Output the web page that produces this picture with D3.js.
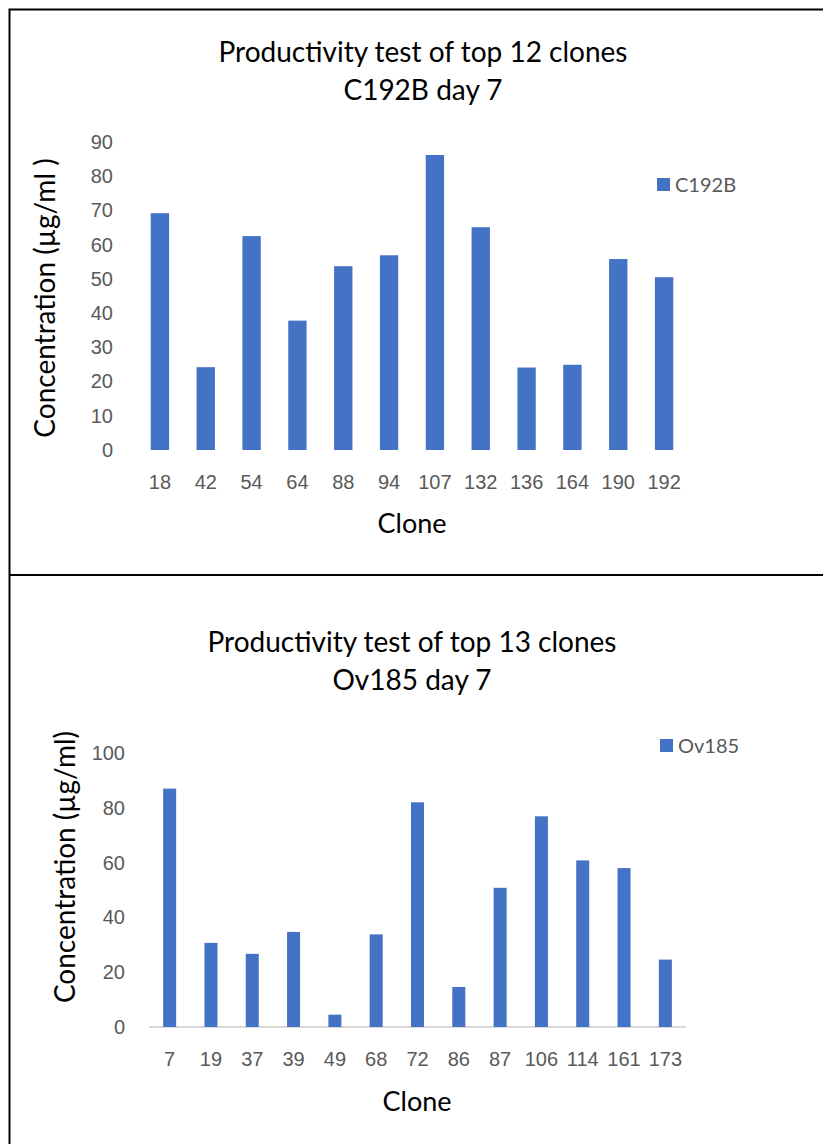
<!DOCTYPE html>
<html>
<head>
<meta charset="utf-8">
<script src="https://cdn.jsdelivr.net/npm/d3@7"></script>
<style>
  body { margin: 0; background: #fff; }
  svg { display: block; font-family: Lato, 'Open Sans', sans-serif; }
  .tick text { fill: #595959; }
</style>
</head>
<body>
<div id="chart"></div>
<script>
// Top chart data (C192B)
const topClones = ['18', '42', '54', '64', '88', '94', '107', '132', '136', '164', '190', '192'];
const topValues = [69.2, 24.2, 62.5, 37.8, 53.7, 56.9, 86.2, 65.1, 24.1, 24.9, 55.8, 50.5];
const topTicks = [0, 10, 20, 30, 40, 50, 60, 70, 80, 90];

// Bottom chart data (Ov185)
const bottomClones = ['7', '19', '37', '39', '49', '68', '72', '86', '87', '106', '114', '161', '173'];
const bottomValues = [87, 30.7, 26.7, 34.7, 4.5, 33.8, 82, 14.6, 50.8, 76.9, 60.8, 58, 24.6];
const bottomTicks = [0, 20, 40, 60, 80, 100];

const width = 823, height = 1144;
const barColor = '#4472c4';

const svg = d3.select('#chart')
  .append('svg')
    .attr('width', width)
    .attr('height', height);

// outer frame + divider
svg.append('rect')
    .attr('x', 9.5).attr('y', 9.5)
    .attr('width', 840).attr('height', 1160)
    .attr('fill', 'none')
    .attr('stroke', '#000')
    .attr('stroke-width', 2);
svg.append('line')
    .attr('x1', 9).attr('x2', width)
    .attr('y1', 575).attr('y2', 575)
    .attr('stroke', '#000')
    .attr('stroke-width', 2);

function drawChart(opts){
  const g = svg.append('g');

  const x = d3.scaleBand()
    .domain(opts.clones)
    .range(opts.xRange)
    .paddingInner(opts.padding)
    .paddingOuter(opts.padding / 2);

  const y = d3.scaleLinear()
    .domain([0, opts.yMax])
    .range(opts.yRange);

  // titles
  g.selectAll('.title')
    .data(opts.title)
    .join('text')
      .attr('class', 'title')
      .attr('x', opts.titleX)
      .attr('y', (d, i) => opts.titleY + i * 38)
      .attr('text-anchor', 'middle')
      .attr('dy', '0.35em')
      .attr('font-size', 28)
      .attr('fill', '#000')
      .text(d => d);

  // y axis
  const yAxis = g.append('g')
    .attr('transform', `translate(${opts.yLabelRight},0)`)
    .call(d3.axisLeft(y).tickValues(opts.ticks).tickSize(0).tickPadding(0));
  yAxis.select('.domain').remove();
  yAxis.selectAll('text').attr('font-size', 20);

  // baseline
  if(opts.baseline){
    g.append('line')
      .attr('x1', opts.xRange[0]).attr('x2', opts.xRange[1])
      .attr('y1', y(0)).attr('y2', y(0))
      .attr('stroke', '#d9d9d9')
      .attr('stroke-width', 2);
  }

  // bars
  g.append('g')
    .selectAll('rect')
    .data(opts.values)
    .join('rect')
      .attr('x', (d, i) => x(opts.clones[i]))
      .attr('y', d => y(d))
      .attr('width', x.bandwidth())
      .attr('height', d => y(0) - y(d))
      .attr('fill', barColor);

  // x axis labels
  const xAxis = g.append('g')
    .attr('transform', `translate(0,${opts.xLabelY})`)
    .call(d3.axisBottom(x).tickSize(0).tickPadding(0));
  xAxis.select('.domain').remove();
  xAxis.selectAll('text').attr('font-size', 20).attr('dy', '0.35em');

  // axis titles
  g.append('text')
    .attr('x', opts.xTitle[0])
    .attr('y', opts.xTitle[1])
    .attr('text-anchor', 'middle')
    .attr('dy', '0.35em')
    .attr('font-size', 27)
    .text('Clone');

  g.append('text')
    .attr('transform', `translate(${opts.yTitle[0]},${opts.yTitle[1]}) rotate(-90)`)
    .attr('text-anchor', 'middle')
    .attr('dy', '0.35em')
    .attr('font-size', 28)
    .text(opts.yTitleText);

  // legend
  const legend = g.append('g')
    .attr('transform', `translate(${opts.legend[0]},${opts.legend[1]})`);
  legend.append('rect')
    .attr('width', 13).attr('height', 13)
    .attr('fill', barColor);
  legend.append('text')
    .attr('x', 18).attr('y', 6.5)
    .attr('dy', '0.35em')
    .attr('font-size', 20)
    .attr('fill', '#595959')
    .text(opts.series);
}

drawChart({
  clones: topClones,
  values: topValues,
  ticks: topTicks,
  yMax: 90,
  xRange: [137, 687],
  yRange: [450, 142],
  padding: 0.6,
  baseline: false,
  title: ['Productivity test of top 12 clones', 'C192B day 7'],
  titleX: 423,
  titleY: 52,
  yLabelRight: 113,
  xLabelY: 482,
  xTitle: [412, 524],
  yTitle: [45, 298],
  yTitleText: 'Concentration (µg/ml )',
  legend: [657, 178],
  series: 'C192B'
});

drawChart({
  clones: bottomClones,
  values: bottomValues,
  ticks: bottomTicks,
  yMax: 100,
  xRange: [149, 686],
  yRange: [1027, 753],
  padding: 0.685,
  baseline: true,
  title: ['Productivity test of top 13 clones', 'Ov185 day 7'],
  titleX: 412,
  titleY: 642,
  yLabelRight: 125,
  xLabelY: 1059,
  xTitle: [417, 1102],
  yTitle: [65, 867],
  yTitleText: 'Concentration (µg/ml)',
  legend: [660, 739],
  series: 'Ov185'
});
</script>
</body>
</html>
